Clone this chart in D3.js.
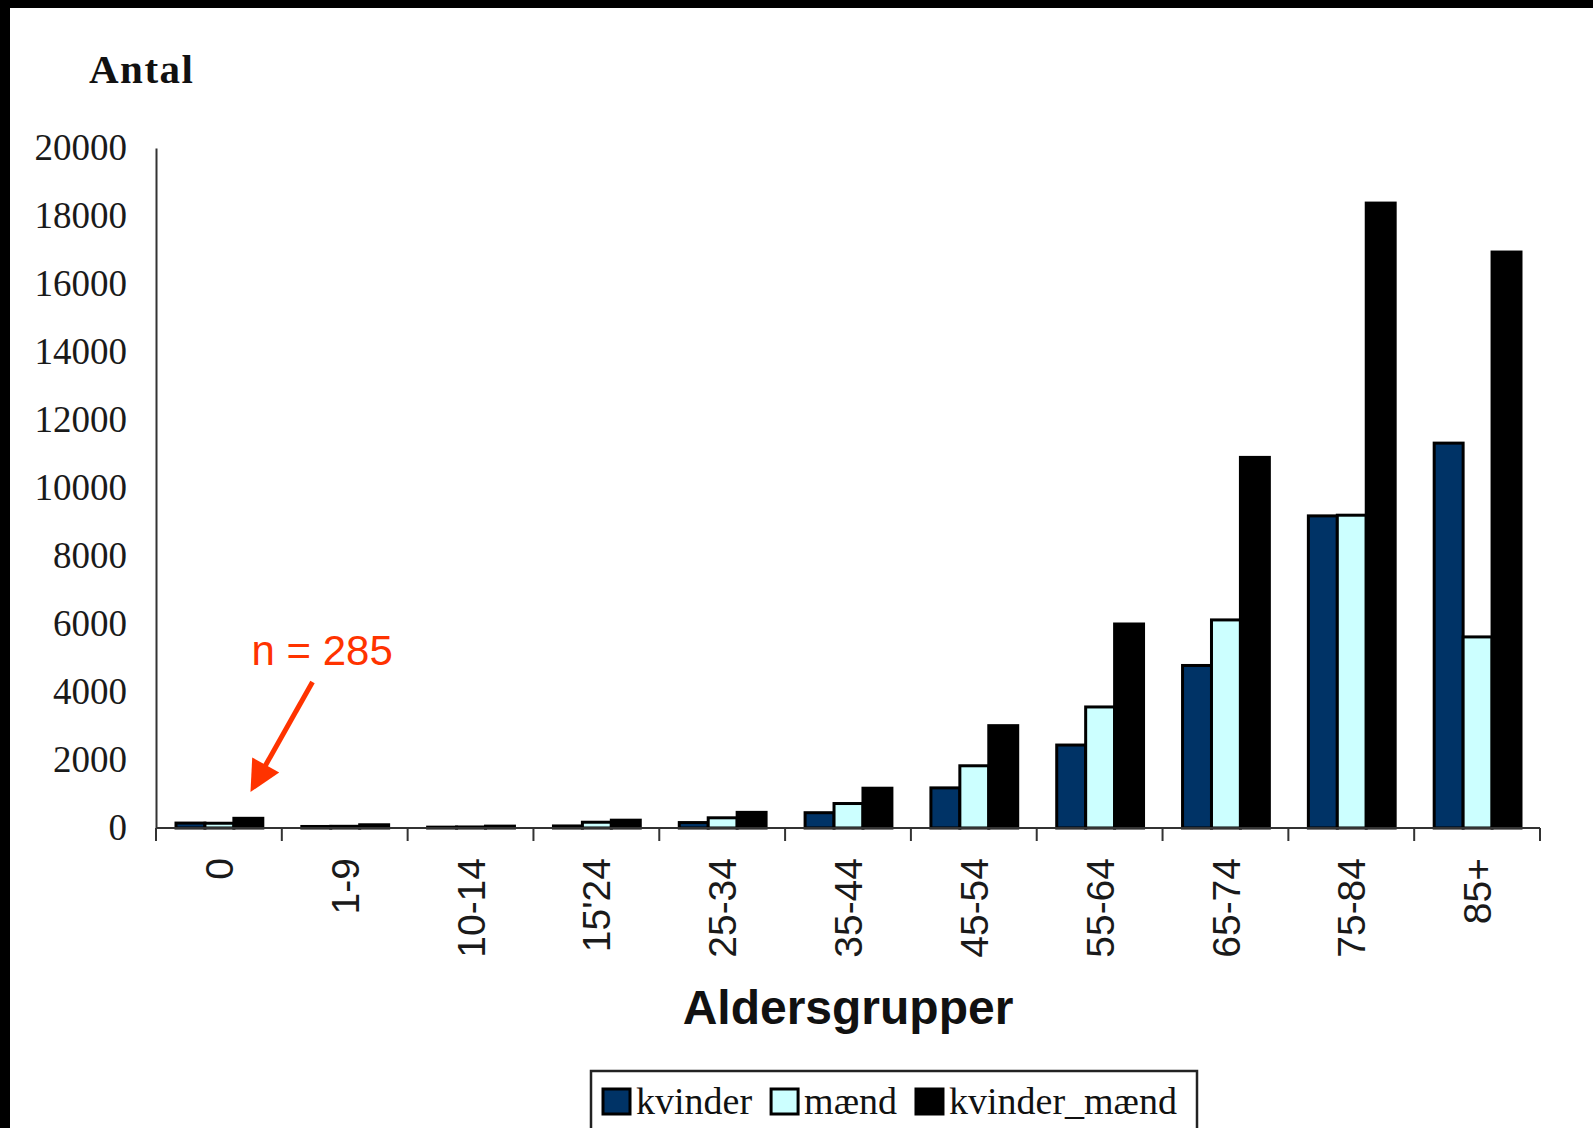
<!DOCTYPE html>
<html>
<head>
<meta charset="utf-8">
<script src="https://cdn.jsdelivr.net/npm/d3@7"></script>
<style>
  html, body { margin: 0; padding: 0; background: #000; }
  svg { display: block; }
</style>
</head>
<body>
<svg id="chart" width="1593" height="1128"></svg>
<script>
// Age groups on the x axis
const categories = ["0", "1-9", "10-14", "15'24", "25-34", "35-44", "45-54", "55-64", "65-74", "75-84", "85+"];
// Counts per age group
const kvinder      = [145, 45, 25, 60, 160, 450, 1180, 2440, 4780, 9180, 11320];
const maend        = [140, 50, 30, 170, 300, 720, 1830, 3560, 6120, 9200, 5620];
const kvinderMaend = [285, 95, 55, 230, 460, 1170, 3010, 6000, 10900, 18380, 16940];
// Series names as shown in the legend
const seriesNames = ["kvinder", "mænd", "kvinder_mænd"];
const seriesColors = ["#003366", "#ccffff", "#000000"];
// Y axis tick values
const yTicks = [0, 2000, 4000, 6000, 8000, 10000, 12000, 14000, 16000, 18000, 20000];
// Annotated total for the first group
const annotation = { group: "0", text: "n = 285" };

const svg = d3.select("#chart");
const W = 1593, H = 1128;

// page frame: black edge top/left, white sheet
svg.append("rect").attr("width", W).attr("height", H).attr("fill", "#000");
svg.append("rect").attr("x", 10).attr("y", 8).attr("width", W - 10).attr("height", H - 8).attr("fill", "#fff");

const plot = { left: 156, right: 1540, top: 148, bottom: 828 };

const x0 = d3.scaleBand()
  .domain(categories)
  .range([plot.left, plot.right])
  .paddingInner(0.31)
  .paddingOuter(0.155);

const x1 = d3.scaleBand()
  .domain(seriesNames)
  .range([0, x0.bandwidth()]);

const y = d3.scaleLinear()
  .domain([0, 20000])
  .range([plot.bottom, plot.top]);

const axisColor = "#333";

// bars
const seriesData = [kvinder, maend, kvinderMaend];
const rows = categories.map((c, i) => ({
  cat: c,
  values: seriesNames.map((s, k) => ({ key: s, value: seriesData[k][i], color: seriesColors[k] }))
}));

const groups = svg.append("g").selectAll("g.grp")
  .data(rows).join("g")
  .attr("class", "grp")
  .attr("transform", d => `translate(${x0(d.cat) + 0.5},0)`);

groups.selectAll("rect")
  .data(d => d.values).join("rect")
  .attr("x", d => x1(d.key))
  .attr("width", x1.bandwidth())
  .attr("y", d => y(d.value))
  .attr("height", d => y(0) - y(d.value))
  .attr("fill", d => d.color)
  .attr("stroke", "#000")
  .attr("stroke-width", 3);

// y axis
const yAxis = d3.axisLeft(y).tickValues(yTicks).tickSize(0).tickPadding(29).tickFormat(d3.format("d"));
const gy = svg.append("g").attr("transform", `translate(${plot.left},0)`).call(yAxis);
gy.select(".domain").attr("stroke", axisColor).attr("stroke-width", 2);
gy.selectAll("text")
  .attr("font-family", "'Liberation Serif', 'Times New Roman', serif")
  .attr("font-size", 37)
  .attr("fill", "#1a1a1a");

// x axis line and group boundary ticks
svg.append("line")
  .attr("x1", plot.left).attr("x2", plot.right)
  .attr("y1", plot.bottom).attr("y2", plot.bottom)
  .attr("stroke", axisColor).attr("stroke-width", 2);

const boundaries = d3.range(categories.length + 1).map(i => plot.left + i * x0.step());
svg.append("g").selectAll("line")
  .data(boundaries).join("line")
  .attr("x1", d => d).attr("x2", d => d)
  .attr("y1", plot.bottom).attr("y2", plot.bottom + 13)
  .attr("stroke", axisColor).attr("stroke-width", 2);

// x tick labels, rotated
svg.append("g").selectAll("text")
  .data(categories).join("text")
  .attr("transform", d => `translate(${x0(d) + x0.bandwidth() / 2},${plot.bottom + 30}) rotate(-90)`)
  .attr("text-anchor", "end")
  .attr("dy", "0.36em")
  .attr("font-family", "'Liberation Sans', Arial, sans-serif")
  .attr("font-size", 39)
  .attr("fill", "#1a1a1a")
  .text(d => d);

// axis titles
svg.append("text")
  .attr("x", 89).attr("y", 83)
  .attr("font-family", "'Liberation Serif', 'Times New Roman', serif")
  .attr("font-weight", "bold")
  .attr("font-size", 41)
  .attr("letter-spacing", 1.5)
  .attr("fill", "#111")
  .text("Antal");

svg.append("text")
  .attr("x", (plot.left + plot.right) / 2).attr("y", 1024)
  .attr("text-anchor", "middle")
  .attr("font-family", "'Liberation Sans', Arial, sans-serif")
  .attr("font-weight", "bold")
  .attr("font-size", 48)
  .attr("fill", "#111")
  .text("Aldersgrupper");

// legend
const legend = svg.append("g");
legend.append("rect")
  .attr("x", 591).attr("y", 1071)
  .attr("width", 606).attr("height", 80)
  .attr("fill", "#fff")
  .attr("stroke", "#222").attr("stroke-width", 2.5);

let lx = 603;
seriesNames.forEach((name, k) => {
  legend.append("rect")
    .attr("x", lx).attr("y", 1089)
    .attr("width", 27).attr("height", 25)
    .attr("fill", seriesColors[k])
    .attr("stroke", "#000").attr("stroke-width", 3);
  const t = legend.append("text")
    .attr("x", lx + 33).attr("y", 1114)
    .attr("font-family", "'Liberation Serif', 'Times New Roman', serif")
    .attr("font-size", 38)
    .attr("fill", "#111")
    .text(name);
  lx += 33 + t.node().getComputedTextLength() + 19;
});

// annotation with arrow pointing at the first group
const red = "#ff3300";
const ax = x0(annotation.group);
svg.append("text")
  .attr("x", ax + 76).attr("y", 665)
  .attr("font-family", "'Liberation Sans', Arial, sans-serif")
  .attr("font-size", 42)
  .attr("fill", red)
  .text(annotation.text);

const tip = [ax + 75, 792];
const start = [ax + 137, 682];
const dx = tip[0] - start[0], dyv = tip[1] - start[1];
const len = Math.hypot(dx, dyv);
const ux = dx / len, uy = dyv / len;
const headLen = 31, headHalf = 15.5;
const base = [tip[0] - ux * headLen, tip[1] - uy * headLen];
svg.append("line")
  .attr("x1", start[0]).attr("y1", start[1])
  .attr("x2", base[0] + ux * 2).attr("y2", base[1] + uy * 2)
  .attr("stroke", red).attr("stroke-width", 5);
svg.append("path")
  .attr("d", d3.line()([
    tip,
    [base[0] - uy * headHalf, base[1] + ux * headHalf],
    [base[0] + uy * headHalf, base[1] - ux * headHalf]
  ]) + "Z")
  .attr("fill", red);
</script>
</body>
</html>
